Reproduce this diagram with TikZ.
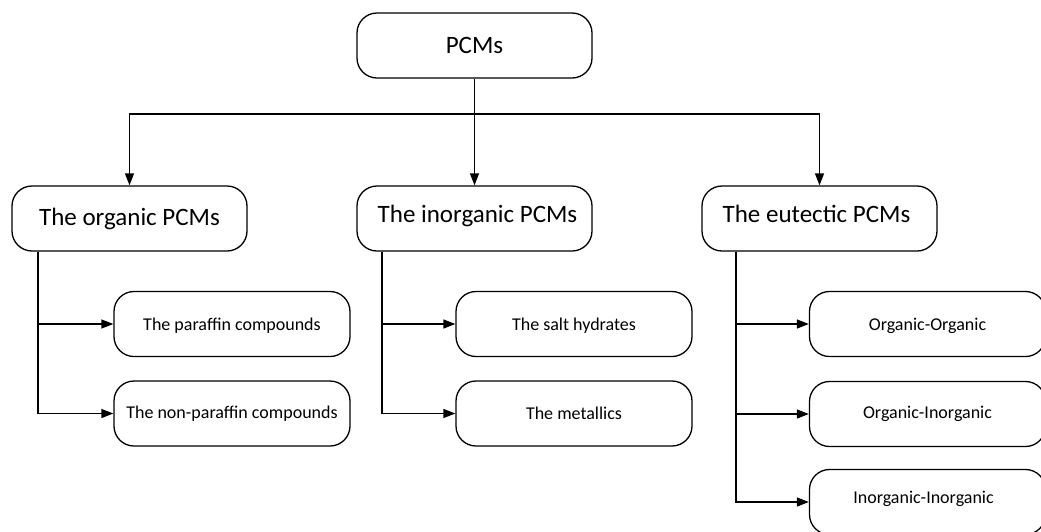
\documentclass[tikz,border=0pt]{standalone}
\usepackage{fontspec}
\setmainfont{Carlito}
\usetikzlibrary{arrows.meta}
\newcommand{\shiftup}[2]{\raisebox{#1}[\height][\depth]{#2}}
\begin{document}
\begin{tikzpicture}[x=1pt,y=-1pt,
  box/.style={draw,line width=1.3pt,rounded corners=20pt,fill=white,inner sep=0pt},
  topbox/.style={box,minimum width=235pt,minimum height=65pt,font=\fontsize{25}{28}\selectfont},
  leaf/.style={box,minimum width=236pt,minimum height=65pt,font=\fontsize{18}{21}\selectfont},
  conn/.style={line width=1.3pt},
  arr/.style={conn,-{Triangle[length=12pt,width=9pt]}}]
\useasboundingbox (0,0) rectangle (1041,531);
\clip (0,0) rectangle (1041,531);
\node[topbox] (pcms) at (474.5,45.5) {PCMs};
\node[topbox] (org) at (129.5,218.5) {The organic PCMs};
\node[topbox] (inorg) at (474.5,218.5) {\kern6pt\shiftup{3pt}{The inorganic PCMs}};
\node[topbox] (eut) at (819.5,218.5) {\shiftup{5pt}{The eutectic PCMs}\kern6pt};
\node[leaf] (par) at (232,324) {\shiftup{-2pt}{The paraffin compounds}};
\node[leaf] (npar) at (232,413.5) {The non-paraffin compounds};
\node[leaf] (salt) at (574,324) {\shiftup{-2pt}{The salt hydrates}};
\node[leaf] (metal) at (574,413.5) {The metallics};
\node[leaf] (oo) at (927.5,324) {\shiftup{-2pt}{Organic-Organic}};
\node[leaf] (oi) at (927.5,414) {Organic-Inorganic};
\node[leaf] (ii) at (927.5,502) {\shiftup{3pt}{Inorganic-Inorganic}\kern8pt};
\coordinate (bus) at (474.5,114);
\draw[conn] (pcms.south) -- (bus);
\draw[arr] (bus) -| (org.north);
\draw[arr] (bus) -| (eut.north);
\draw[arr] (bus) -- (inorg.north);
\coordinate (ot) at ([xshift=-91.5pt]org.south);
\coordinate (it) at ([xshift=-92.5pt]inorg.south);
\coordinate (et) at ([xshift=-83.5pt]eut.south);
\draw[arr] (ot) |- (par.west);
\draw[arr] (ot) |- (npar.west);
\draw[arr] (it) |- (salt.west);
\draw[arr] (it) |- (metal.west);
\draw[arr] (et) |- (oo.west);
\draw[arr] (et) |- (oi.west);
\draw[arr] (et) |- (ii.west);
\end{tikzpicture}
\end{document}
